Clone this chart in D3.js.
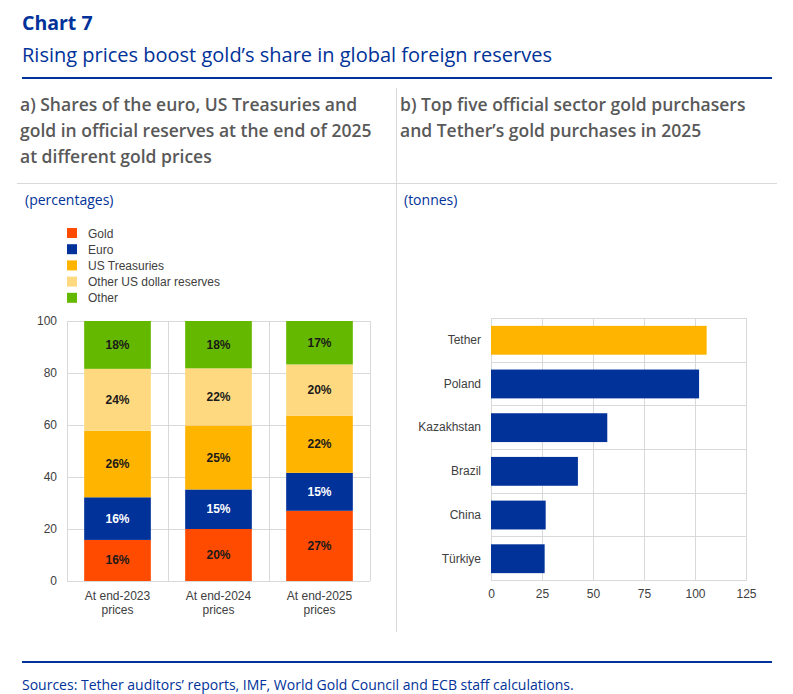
<!DOCTYPE html>
<html>
<head>
<meta charset="utf-8">
<script src="https://cdn.jsdelivr.net/npm/d3@7"></script>
<style>
  body { margin: 0; background: #fff; }
  svg { display: block; }
</style>
</head>
<body>
<div id="chart"></div>
<script>
// panel a) shares in official reserves (percentages)
var periods = ["At end-2023", "At end-2024", "At end-2025"];
var seriesNames = ["Gold", "Euro", "US Treasuries", "Other US dollar reserves", "Other"];
var gold = [15.8, 20.0, 27.0];
var euro = [16.4, 15.2, 14.6];
var treasuries = [25.6, 24.6, 21.9];
var otherUsd = [23.8, 22.0, 19.8];
var other = [18.4, 18.2, 16.7];
var shareTicks = [0, 20, 40, 60, 80, 100];

// panel b) gold purchases in 2025 (tonnes)
var purchasers = ["Tether", "Poland", "Kazakhstan", "Brazil", "China", "Türkiye"];
var tonnes = [105.7, 102, 57, 42.6, 26.8, 26.3];
var tonneTicks = [0, 25, 50, 75, 100, 125];

var W = 793, H = 694;
var blue = "#003299", grid = "#d9d9d9", axisText = "#404040";
var hdrFont = "'Open Sans', sans-serif", chFont = "'Liberation Sans', Arial, sans-serif";
var colors = {
	"Gold": "#ff4b00", "Euro": "#003299", "US Treasuries": "#ffb400",
	"Other US dollar reserves": "#ffd97f", "Other": "#65b800"
};

var svg = d3.select("#chart").append("svg").attr("width", W).attr("height", H);

//header
svg.append("text").attr("x", 22).attr("y", 30).text("Chart 7")
	.attr("font-family", hdrFont).attr("font-weight", 700).attr("font-size", 19.5).attr("fill", blue);
svg.append("text").attr("x", 22).attr("y", 62).text("Rising prices boost gold\u2019s share in global foreign reserves")
	.attr("font-family", hdrFont).attr("font-size", 20).attr("fill", blue);
svg.append("rect").attr("x", 22).attr("y", 77).attr("width", 750).attr("height", 2).attr("fill", blue);

//panel titles
function multiline(x, y, lines) {
	var t = svg.append("text").attr("font-family", hdrFont).attr("font-weight", 600)
		.attr("font-size", 17.5).attr("fill", "#595959");
	lines.forEach(function (l, i) {
		t.append("tspan").attr("x", x).attr("y", y + i * 26).text(l);
	});
}
multiline(20, 111, ["a) Shares of the euro, US Treasuries and", "gold in official reserves at the end of 2025", "at different gold prices"]);
multiline(400, 111, ["b) Top five official sector gold purchasers", "and Tether\u2019s gold purchases in 2025"]);
svg.append("line").attr("x1", 396.5).attr("x2", 396.5).attr("y1", 88).attr("y2", 632).attr("stroke", grid);
svg.append("line").attr("x1", 17).attr("x2", 777).attr("y1", 183.5).attr("y2", 183.5).attr("stroke", grid);

svg.append("text").attr("x", 25).attr("y", 205).text("(percentages)")
	.attr("font-family", hdrFont).attr("font-size", 14).attr("fill", blue);
svg.append("text").attr("x", 404).attr("y", 205).text("(tonnes)")
	.attr("font-family", hdrFont).attr("font-size", 14).attr("fill", blue);

//footer
svg.append("rect").attr("x", 22).attr("y", 661).attr("width", 750).attr("height", 2).attr("fill", blue);
svg.append("text").attr("x", 22).attr("y", 690).text("Sources: Tether auditors\u2019 reports, IMF, World Gold Council and ECB staff calculations.")
	.attr("font-family", hdrFont).attr("font-size", 14).attr("fill", blue);

// ---------- panel a ----------
var rows = periods.map(function (p, i) {
	return { period: p, "Gold": gold[i], "Euro": euro[i], "US Treasuries": treasuries[i],
		"Other US dollar reserves": otherUsd[i], "Other": other[i] };
});
var stacked = d3.stack().keys(seriesNames)(rows);

var x = d3.scaleBand().domain(periods).range([67, 370]).paddingInner(0.34).paddingOuter(0.17);
var y = d3.scaleLinear().domain([0, 100]).range([581, 321]);

var ga = svg.append("g");
ga.selectAll("line.h").data(shareTicks).enter().append("line")
	.attr("x1", 67).attr("x2", 370)
	.attr("y1", function (d) { return y(d) + 0.5; }).attr("y2", function (d) { return y(d) + 0.5; })
	.attr("stroke", grid);
ga.selectAll("line.v").data(d3.range(periods.length + 1)).enter().append("line")
	.attr("x1", function (i) { return 67 + i * x.step() + 0.5; })
	.attr("x2", function (i) { return 67 + i * x.step() + 0.5; })
	.attr("y1", 321).attr("y2", 581).attr("stroke", grid);

var yAxis = ga.append("g").attr("transform", "translate(67,0)")
	.call(d3.axisLeft(y).tickValues(shareTicks).tickSize(0).tickPadding(10));
yAxis.select(".domain").remove();
yAxis.selectAll("text").attr("font-family", chFont).attr("font-size", 12).attr("fill", axisText);

var layers = ga.selectAll("g.layer").data(stacked).enter().append("g")
	.attr("fill", function (d) { return colors[d.key]; });
layers.selectAll("rect").data(function (d) { return d; }).enter().append("rect")
	.attr("x", function (d) { return x(d.data.period); })
	.attr("width", x.bandwidth())
	.attr("y", function (d) { return y(d[1]); })
	.attr("height", function (d) { return y(d[0]) - y(d[1]); });

layers.selectAll("text").data(function (d) { return d.map(function (v) { v.key = d.key; return v; }); })
	.enter().append("text")
	.attr("x", function (d) { return x(d.data.period) + x.bandwidth() / 2; })
	.attr("y", function (d) { return (y(d[0]) + y(d[1])) / 2 + 4; })
	.attr("text-anchor", "middle")
	.attr("font-family", chFont).attr("font-weight", 700).attr("font-size", 12)
	.attr("fill", function (d) { return d.key === "Euro" ? "#ffffff" : "#1a1a1a"; })
	.text(function (d) { return d3.format(".0f")(d[1] - d[0]) + "%"; });

var xl = ga.selectAll("text.xl").data(periods).enter().append("text")
	.attr("text-anchor", "middle")
	.attr("font-family", chFont).attr("font-size", 12).attr("fill", axisText);
xl.append("tspan").attr("x", function (d) { return x(d) + x.bandwidth() / 2; }).attr("y", 600).text(function (d) { return d; });
xl.append("tspan").attr("x", function (d) { return x(d) + x.bandwidth() / 2; }).attr("y", 614).text("prices");

//legend
var lg = ga.selectAll("g.lg").data(seriesNames).enter().append("g")
	.attr("transform", function (d, i) { return "translate(67," + (228 + i * 16.2) + ")"; });
lg.append("rect").attr("width", 10).attr("height", 10).attr("fill", function (d) { return colors[d]; });
lg.append("text").attr("x", 21).attr("y", 9.5).text(function (d) { return d; })
	.attr("font-family", chFont).attr("font-size", 12).attr("fill", axisText);

// ---------- panel b ----------
var xb = d3.scaleLinear().domain([0, 125]).range([491, 746]);
var yb = d3.scaleBand().domain(purchasers).range([318, 581]).paddingInner(0.34).paddingOuter(0.18);

var gb = svg.append("g");
gb.selectAll("line.v").data(tonneTicks).enter().append("line")
	.attr("x1", function (d) { return xb(d) + 0.5; }).attr("x2", function (d) { return xb(d) + 0.5; })
	.attr("y1", 318).attr("y2", 581).attr("stroke", grid);
gb.selectAll("line.h").data(d3.range(purchasers.length + 1)).enter().append("line")
	.attr("x1", 491).attr("x2", 746)
	.attr("y1", function (i) { return Math.round(318 + i * yb.step()) + 0.5; })
	.attr("y2", function (i) { return Math.round(318 + i * yb.step()) + 0.5; })
	.attr("stroke", grid);

gb.selectAll("rect.bar").data(purchasers).enter().append("rect")
	.attr("x", xb(0))
	.attr("y", function (d) { return yb(d); })
	.attr("height", yb.bandwidth())
	.attr("width", function (d, i) { return xb(tonnes[i]) - xb(0); })
	.attr("fill", function (d, i) { return i === 0 ? "#ffb400" : blue; });

var xAxisB = gb.append("g").attr("transform", "translate(0,581)")
	.call(d3.axisBottom(xb).tickValues(tonneTicks).tickSize(0).tickPadding(8));
xAxisB.select(".domain").remove();
xAxisB.selectAll("text").attr("font-family", chFont).attr("font-size", 12).attr("fill", axisText);

var yAxisB = gb.append("g").attr("transform", "translate(491,0)")
	.call(d3.axisLeft(yb).tickSize(0).tickPadding(10));
yAxisB.select(".domain").remove();
yAxisB.selectAll("text").attr("font-family", chFont).attr("font-size", 12).attr("fill", axisText);
</script>
</body>
</html>
